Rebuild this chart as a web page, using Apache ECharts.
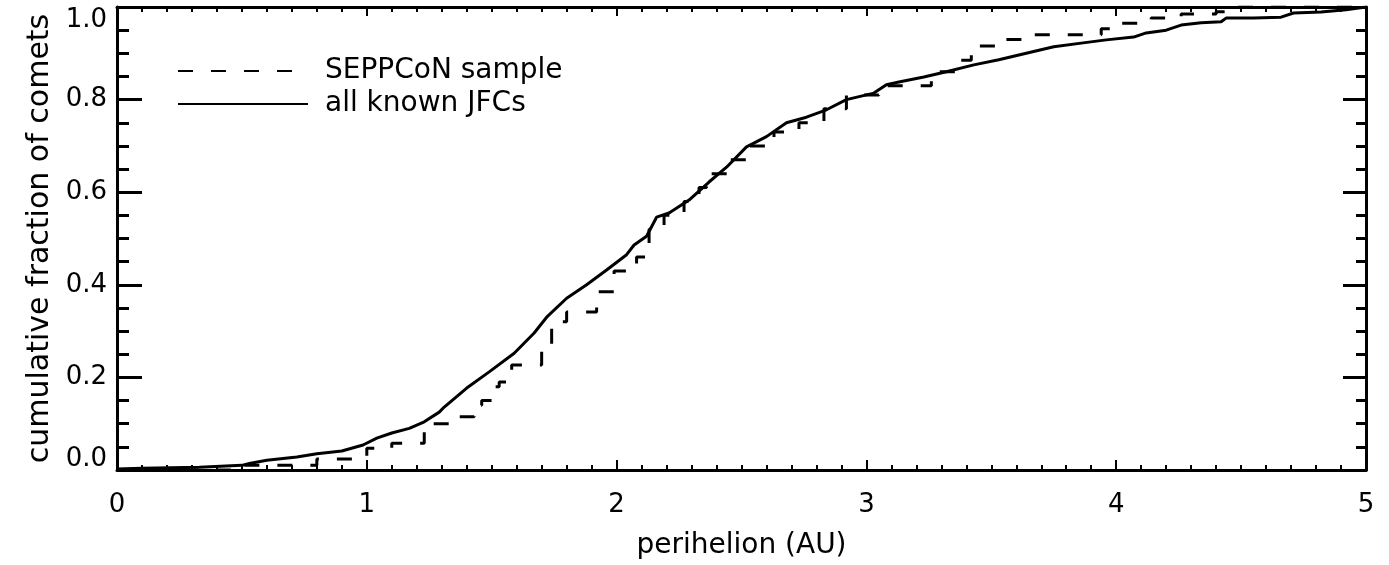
<!DOCTYPE html>
<html>
<head>
<meta charset="utf-8">
<script src="https://cdn.jsdelivr.net/npm/echarts@6/dist/echarts.min.js"></script>
<style>
  html, body { margin: 0; padding: 0; background: #fff; }
  #chart { width: 1389px; height: 565px; }
</style>
</head>
<body>
<div id="chart"></div>
<script>
// all known JFCs (cumulative fraction vs perihelion)
const jfcX = [0, 0.1, 0.33, 0.5, 0.53, 0.6, 0.72, 0.8, 0.9, 0.985, 1.04, 1.1, 1.17, 1.23, 1.29, 1.31, 1.4, 1.49, 1.59, 1.67, 1.72, 1.8, 1.88, 1.96, 2.04, 2.07, 2.12, 2.16, 2.21, 2.29, 2.37, 2.44, 2.52, 2.6, 2.68, 2.76, 2.84, 2.92, 3.03, 3.08, 3.13, 3.23, 3.32, 3.43, 3.53, 3.64, 3.75, 3.86, 3.96, 4.07, 4.12, 4.2, 4.26, 4.34, 4.42, 4.44, 4.55, 4.66, 4.71, 4.82, 4.92, 5.0];
const jfcY = [0.002, 0.004, 0.006, 0.01, 0.014, 0.021, 0.028, 0.035, 0.041, 0.054, 0.069, 0.08, 0.09, 0.104, 0.125, 0.136, 0.177, 0.212, 0.252, 0.296, 0.33, 0.371, 0.4, 0.432, 0.465, 0.486, 0.505, 0.546, 0.555, 0.583, 0.622, 0.654, 0.698, 0.72, 0.75, 0.762, 0.778, 0.8, 0.814, 0.832, 0.838, 0.849, 0.86, 0.875, 0.886, 0.9, 0.914, 0.922, 0.929, 0.935, 0.944, 0.95, 0.961, 0.966, 0.968, 0.976, 0.976, 0.978, 0.987, 0.989, 0.994, 1.0];

// SEPPCoN sample (step CDF: x of each jump, level after jump)
const sampleX = [0, 0.45, 0.8, 1.0, 1.1, 1.23, 1.36, 1.43, 1.46, 1.5, 1.53, 1.58, 1.7, 1.74, 1.8, 1.92, 1.99, 2.08, 2.13, 2.19, 2.27, 2.33, 2.36, 2.45, 2.54, 2.63, 2.73, 2.83, 2.92, 3.05, 3.26, 3.36, 3.42, 3.56, 3.65, 3.94, 4.02, 4.14, 4.26, 4.4, 4.45, 5.0];
const sampleY = [0, 0.01, 0.024, 0.047, 0.058, 0.1, 0.115, 0.14, 0.15, 0.18, 0.19, 0.227, 0.26, 0.32, 0.341, 0.385, 0.43, 0.46, 0.52, 0.55, 0.58, 0.61, 0.64, 0.67, 0.7, 0.73, 0.75, 0.78, 0.81, 0.83, 0.86, 0.885, 0.916, 0.93, 0.94, 0.953, 0.965, 0.976, 0.985, 0.99, 1.0, 1.0];

const xTicks = [0, 1, 2, 3, 4, 5];

const font = "DejaVu Sans";
const chart = echarts.init(document.getElementById("chart"), null, { renderer: "canvas" });

// 坐标框线
const axisLineStyle = { show: true, onZero: false, lineStyle: { color: "#000", width: 3 } };

let option = {
  backgroundColor: "#fff",
  animation: false,
  grid: { left: 117, right: 23, top: 7, bottom: 95 },
  legend: {
    orient: "vertical",
    left: 172,
    top: 52,
    itemWidth: 130,
    itemHeight: 14,
    itemGap: 5,
    itemStyle: { opacity: 0 }, // 不显示图例中的圆点
    textStyle: { color: "#000", fontSize: 28, fontFamily: font, padding: [0, 0, 0, 12] },
    data: ["SEPPCoN sample", "all known JFCs"],
  },
  xAxis: [
    {
      type: "value",
      min: 0,
      max: 5,
      interval: 1,
      position: "bottom",
      name: "perihelion (AU)",
      nameLocation: "middle",
      nameGap: 62,
      nameTextStyle: { color: "#000", fontSize: 28, fontFamily: font },
      axisLine: axisLineStyle,
      axisTick: { show: true, inside: true, length: 10, lineStyle: { color: "#000", width: 2 } },
      minorTick: { show: true, splitNumber: 10, length: 5, lineStyle: { color: "#000", width: 2 } },
      axisLabel: {
        color: "#000",
        fontSize: 26,
        fontFamily: font,
        margin: 22,
        formatter: (v) => (xTicks.indexOf(v) >= 0 ? String(v) : ""),
      },
      splitLine: { show: false },
    },
    {
      type: "value",
      min: 0,
      max: 5,
      interval: 1,
      position: "top",
      axisLine: axisLineStyle,
      axisTick: { show: true, inside: true, length: 9, lineStyle: { color: "#000", width: 2 } },
      minorTick: { show: true, splitNumber: 10, length: 5, lineStyle: { color: "#000", width: 2 } },
      axisLabel: { show: false },
      splitLine: { show: false },
    },
  ],
  yAxis: [
    {
      type: "value",
      min: 0,
      max: 1,
      interval: 0.2,
      position: "left",
      name: "cumulative fraction of comets",
      nameLocation: "middle",
      nameGap: 62,
      nameTextStyle: { color: "#000", fontSize: 30, fontFamily: font },
      axisLine: axisLineStyle,
      axisTick: { show: true, inside: true, length: 25, lineStyle: { color: "#000", width: 3 } },
      minorTick: { show: true, splitNumber: 4, length: 12, lineStyle: { color: "#000", width: 3 } },
      axisLabel: {
        color: "#000",
        fontSize: 26,
        fontFamily: font,
        margin: 10,
        formatter: (v) => {
          if (v === 1) return "{top|1.0}";
          if (v === 0) return "{bot|0.0}";
          return v.toFixed(1);
        },
        rich: {
          top: { fontSize: 26, fontFamily: font, color: "#000", padding: [26, 0, 0, 0] },
          bot: { fontSize: 26, fontFamily: font, color: "#000", padding: [0, 0, 22, 0] },
        },
      },
      splitLine: { show: false },
    },
    {
      type: "value",
      min: 0,
      max: 1,
      interval: 0.2,
      position: "right",
      axisLine: axisLineStyle,
      axisTick: { show: true, inside: true, length: 23, lineStyle: { color: "#000", width: 3 } },
      minorTick: { show: true, splitNumber: 4, length: 10, lineStyle: { color: "#000", width: 3 } },
      axisLabel: { show: false },
      splitLine: { show: false },
    },
  ],
  series: [
    {
      name: "SEPPCoN sample",
      type: "line",
      xAxisIndex: 0,
      yAxisIndex: 0,
      step: "end",
      symbol: "none",
      lineStyle: { color: "#000", width: 3, type: [15, 18] },
      itemStyle: { color: "#000" },
      data: sampleX.map((x, i) => [x, sampleY[i]]),
    },
    {
      name: "all known JFCs",
      type: "line",
      xAxisIndex: 0,
      yAxisIndex: 0,
      symbol: "none",
      lineStyle: { color: "#000", width: 3 },
      itemStyle: { color: "#000" },
      data: jfcX.map((x, i) => [x, jfcY[i]]),
    },
  ],
};

chart.setOption(option);
</script>
</body>
</html>
